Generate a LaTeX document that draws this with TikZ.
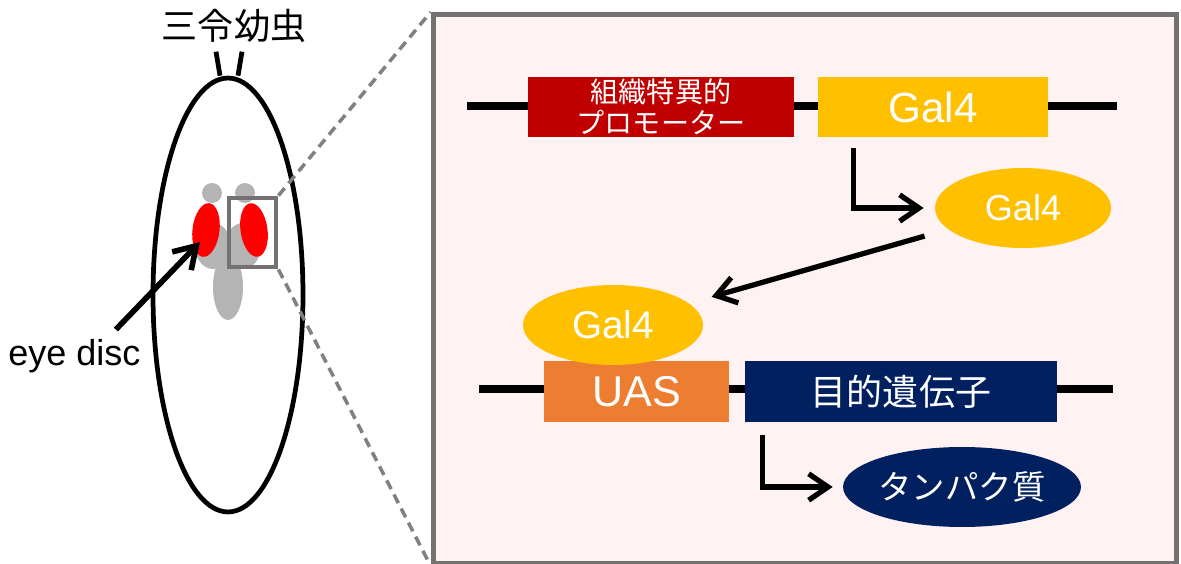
\documentclass[tikz,border=0pt]{standalone}
\usepackage{fontspec}
\setmainfont{Liberation Sans}
\newfontfamily\jp{Noto Sans CJK JP}
\usepackage{tikz}
\usetikzlibrary{arrows.meta,shapes.geometric}

\definecolor{framegray}{HTML}{767171}
\definecolor{dashgray}{HTML}{808080}
\definecolor{panelpink}{HTML}{FFF2F2}
\definecolor{organgray}{HTML}{B4B4B4}
\definecolor{promred}{HTML}{C00000}
\definecolor{galyellow}{HTML}{FFC000}
\definecolor{uasorange}{HTML}{ED7D31}
\definecolor{genenavy}{HTML}{002060}

\begin{document}
\begin{tikzpicture}[x=0.02cm, y=-0.02cm,
        dna/.style={line width=4.6pt},
        flow/.style={line width=3pt, -{Straight Barb[length=11pt,width=15pt]}},
        gene/.style={rectangle, inner sep=0pt, minimum height=1.2cm, text=white},
        prot/.style={ellipse, inner sep=0pt, minimum height=1.6cm, text=white},
        disc/.style={ellipse, fill=red, inner sep=0pt, minimum width=0.54cm, minimum height=1.08cm},
        zoomline/.style={dashgray, line width=2pt, dash pattern=on 5.5pt off 3.5pt}]
        \useasboundingbox (0,0) rectangle (1181,564);

        % larva
        \node[draw, ellipse, line width=2.7pt, inner sep=0pt, minimum width=3cm, minimum height=8.68cm] (larva) at (228,295) {};
        \draw[line width=2.7pt] ([xshift=-0.16cm]larva.north) -- +(-0.08cm,0.48cm);
        \draw[line width=2.7pt] ([xshift=0.2cm]larva.north) -- +(0.08cm,0.48cm);
        \node (stage) at (234,26) {\jp\fontsize{20.5}{22}\selectfont 三令幼虫};

        \fill[organgray] (212,193) circle (0.2cm);
        \fill[organgray] (245,193) circle (0.2cm);
        \fill[organgray] (213,246) ellipse [x radius=0.36cm, y radius=0.46cm];
        \fill[organgray] (243,246) ellipse [x radius=0.36cm, y radius=0.46cm];
        \fill[organgray] (228,287) ellipse [x radius=0.3cm, y radius=0.66cm];
        \node[disc, rotate=-7] (eyeL) at (206,230) {};
        \node[disc, rotate=8] (eyeR) at (254,230) {};

        \node[draw=framegray, line width=2.8pt, inner sep=0pt, minimum width=0.94cm, minimum height=1.38cm] (inset) at (252.5,232.5) {};

        \node[anchor=base west, inner sep=0pt, font=\fontsize{20.5}{22}\selectfont] (eyelabel) at (8,366) {eye disc};
        \coordinate (eyetip) at (200,242);
        \draw[line width=3.2pt, -{Straight Barb[length=12pt,width=15pt]}] ([shift={(-0.5cm,0.2cm)}]eyelabel.north east) -- (eyetip);

        % zoomed panel
        \node[draw=framegray, fill=panelpink, line width=2.8pt, inner sep=0pt, minimum width=14.88cm, minimum height=10.98cm] (zoom) at (805,289) {};
        \draw[zoomline] (inset.north east) -- (zoom.north west);
        \draw[zoomline] (inset.south east) -- (zoom.south west);

        % driver
        \coordinate (dnaL1) at (467,106);
        \coordinate (dnaR1) at (1117,106);
        \draw[dna] (dnaL1) -- (dnaR1);
        \node[gene, fill=promred, minimum width=5.32cm, align=center, font=\jp\fontsize{16}{17.5}\selectfont] (prom) at (661,107) {組織特異的\\プロモーター};
        \node[gene, fill=galyellow, minimum width=4.6cm, font=\fontsize{24}{26}\selectfont] (galbox) at (933,107) {Gal4};

        \node[prot, fill=galyellow, minimum width=3.52cm, font=\fontsize{20.5}{22}\selectfont] (gal1) at (1023,208) {Gal4};
        \draw[flow] ([shift={(0.72cm,-0.22cm)}]galbox.south west) |- ([xshift=-0.22cm]gal1.west);

        % responder
        \coordinate (dnaL2) at (479,389);
        \coordinate (dnaR2) at (1113,389);
        \draw[dna] (dnaL2) -- (dnaR2);
        \node[gene, fill=uasorange, minimum width=3.7cm, minimum height=1.22cm, font=\fontsize{24.5}{26}\selectfont] (uas) at (636.5,391.5) {UAS};
        \node[gene, fill=genenavy, minimum width=6.24cm, minimum height=1.22cm, font=\jp\fontsize{20.5}{22}\selectfont] (target) at (901,391.5) {目的遺伝子};

        \node[prot, fill=galyellow, minimum width=3.6cm, font=\fontsize{22}{24}\selectfont] (gal2) at (613,325) {Gal4};
        \draw[flow, shorten <=0.49cm, shorten >=0.47cm] (gal1) -- (gal2);

        \node[prot, fill=genenavy, minimum width=4.76cm, font=\jp\fontsize{19}{20}\selectfont] (prot) at (962,487) {タンパク質};
        \draw[flow] ([shift={(0.36cm,-0.26cm)}]target.south west) |- ([xshift=-0.2cm]prot.west);
    \end{tikzpicture}
\end{document}
